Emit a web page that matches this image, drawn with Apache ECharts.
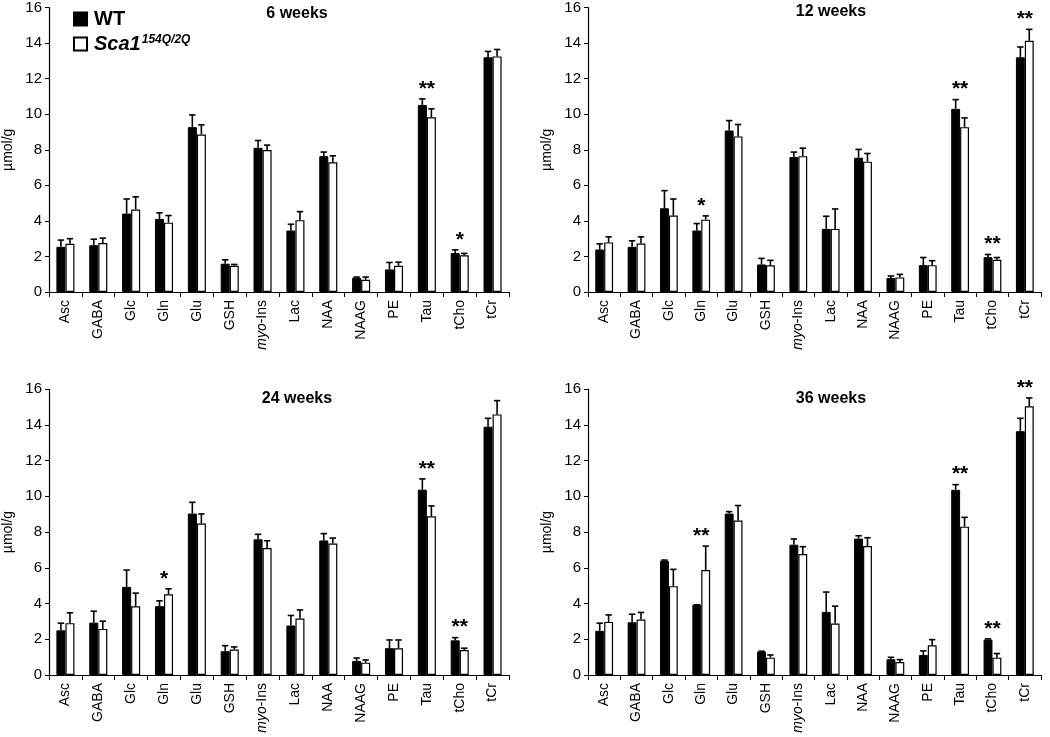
<!DOCTYPE html>
<html><head><meta charset="utf-8">
<script src="https://cdn.jsdelivr.net/npm/echarts@6/dist/echarts.min.js"></script>
<style>html,body{margin:0;padding:0;background:#fff}#c{width:1050px;height:737px}</style>
</head><body><div id="c"></div>
<script>
const categories = ['Asc','GABA','Glc','Gln','Glu','GSH','myo-Ins','Lac','NAA','NAAG','PE','Tau','tCho','tCr'];
const panelTitles = ['6 weeks','12 weeks','24 weeks','36 weeks'];
const seriesNames = ['WT','Sca1'];

// 6 weeks
const wt6      = [2.54, 2.63, 4.41, 4.11, 9.27, 1.59, 8.11, 3.46, 7.64, 0.80, 1.27, 10.52, 2.19, 13.20];
const wt6Err   = [0.38, 0.34, 0.82, 0.34, 0.69, 0.22, 0.41, 0.35, 0.23, 0.04, 0.39, 0.34, 0.18, 0.33];
const sca6     = [2.71, 2.75, 4.64, 3.90, 8.86, 1.48, 7.98, 4.04, 7.29, 0.69, 1.48, 9.83, 2.06, 13.25];
const sca6Err  = [0.29, 0.28, 0.71, 0.40, 0.54, 0.07, 0.28, 0.48, 0.37, 0.15, 0.20, 0.47, 0.11, 0.39];
const stars6   = ['', '', '', '', '', '', '', '', '', '', '', '**', '*', ''];
// 12 weeks
const wt12     = [2.39, 2.54, 4.71, 3.46, 9.08, 1.55, 7.59, 3.55, 7.55, 0.79, 1.51, 10.30, 1.96, 13.20];
const wt12Err  = [0.32, 0.34, 0.99, 0.39, 0.56, 0.34, 0.28, 0.71, 0.47, 0.11, 0.43, 0.52, 0.15, 0.58];
const sca12    = [2.79, 2.73, 4.30, 4.07, 8.75, 1.50, 7.64, 3.55, 7.33, 0.82, 1.51, 9.27, 1.81, 14.13];
const sca12Err = [0.31, 0.37, 0.93, 0.21, 0.67, 0.28, 0.45, 1.12, 0.46, 0.17, 0.25, 0.52, 0.13, 0.64];
const stars12  = ['', '', '', '*', '', '', '', '', '', '', '', '**', '**', '**'];
// 24 weeks
const wt24     = [2.50, 2.93, 4.93, 3.85, 9.03, 1.33, 7.59, 2.77, 7.53, 0.79, 1.50, 10.37, 1.94, 13.89];
const wt24Err  = [0.40, 0.64, 0.94, 0.30, 0.63, 0.31, 0.28, 0.56, 0.38, 0.16, 0.46, 0.60, 0.15, 0.47];
const sca24    = [2.90, 2.58, 3.85, 4.52, 8.47, 1.42, 7.10, 3.16, 7.36, 0.69, 1.50, 8.88, 1.40, 14.58];
const sca24Err = [0.58, 0.43, 0.73, 0.30, 0.54, 0.15, 0.41, 0.48, 0.30, 0.15, 0.46, 0.58, 0.10, 0.77];
const stars24  = ['', '', '', '*', '', '', '', '', '', '', '', '**', '**', ''];
// 36 weeks
const wt36     = [2.47, 2.95, 6.39, 3.93, 9.03, 1.31, 7.29, 3.53, 7.63, 0.88, 1.12, 10.36, 1.98, 13.64];
const wt36Err  = [0.43, 0.45, 0.04, 0.00, 0.11, 0.02, 0.32, 1.11, 0.16, 0.11, 0.23, 0.29, 0.04, 0.72];
const sca36    = [2.97, 3.10, 4.97, 5.87, 8.64, 0.97, 6.77, 2.88, 7.21, 0.73, 1.66, 8.30, 0.97, 15.03];
const sca36Err = [0.39, 0.40, 0.94, 1.34, 0.84, 0.15, 0.41, 0.97, 0.47, 0.13, 0.32, 0.52, 0.23, 0.47];
const stars36  = ['', '', '', '**', '', '', '', '', '', '', '', '**', '**', '**'];

const panels = [
  {wt: wt6,  wtErr: wt6Err,  sca: sca6,  scaErr: sca6Err,  stars: stars6},
  {wt: wt12, wtErr: wt12Err, sca: sca12, scaErr: sca12Err, stars: stars12},
  {wt: wt24, wtErr: wt24Err, sca: sca24, scaErr: sca24Err, stars: stars24},
  {wt: wt36, wtErr: wt36Err, sca: sca36, scaErr: sca36Err, stars: stars36}
];

const FONT = 'Liberation Sans, Arial, sans-serif';
const GAP = 0.45; // barCategoryGap
const grids = [
  {left: 49,  top: 7,   width: 460, height: 285},
  {left: 588, top: 7,   width: 453, height: 285},
  {left: 49,  top: 389, width: 460, height: 286},
  {left: 588, top: 389, width: 453, height: 286}
];
const titlePos = [{x: 292, y: 1}, {x: 826, y: -1}, {x: 292, y: 386}, {x: 826, y: 386}];

function errRender(side) {
  return function (params, api) {
    const i = api.value(0), v = api.value(1), e = api.value(2);
    const base = api.coord([i, v]);
    const top = api.coord([i, v + e]);
    const cw = api.size([1, 0])[0];
    const bw = cw * (1 - GAP) / 2;
    const x = base[0] + side * bw / 2;
    const capHalf = 3.2;
    return {
      type: 'group',
      children: [
        {type: 'line', shape: {x1: x, y1: base[1], x2: x, y2: top[1]}, style: {stroke: '#000', lineWidth: 1.6}},
        {type: 'line', shape: {x1: x - capHalf, y1: top[1], x2: x + capHalf, y2: top[1]}, style: {stroke: '#000', lineWidth: 1.6}}
      ]
    };
  };
}

const starPanelOf = {};
function starRender(params, api) {
  const i = api.value(0), t = api.value(1);
  const p = api.coord([i, t]);
  const txt = panels[starPanelOf[params.seriesIndex]].stars[i];
  return {
    type: 'text',
    x: p[0], y: p[1] - 10,
    style: {text: txt, fill: '#000', font: 'bold 21px ' + FONT, align: 'center', verticalAlign: 'middle'}
  };
}

const xAxes = [], yAxes = [], series = [], titles = [];
panels.forEach((pn, k) => {
  xAxes.push({
    type: 'category', gridIndex: k, data: categories,
    axisLine: {lineStyle: {color: '#000', width: 1.2}},
    axisTick: {show: true, length: 5, lineStyle: {color: '#000'}},
    axisLabel: {
      rotate: 90, margin: 8, color: '#000', fontSize: 14, fontFamily: FONT, interval: 0,
      formatter: v => v === 'myo-Ins' ? '{i|myo}{n|-Ins}' : '{n|' + v + '}',
      rich: {i: {fontStyle: 'italic', fontSize: 14, fontFamily: FONT, color: '#000'},
             n: {fontSize: 14, fontFamily: FONT, color: '#000'}}
    }
  });
  yAxes.push({
    type: 'value', gridIndex: k, min: 0, max: 16, interval: 2,
    name: 'µmol/g', nameLocation: 'middle', nameGap: 34,
    nameTextStyle: {color: '#000', fontSize: 14, fontFamily: FONT},
    axisLine: {show: true, lineStyle: {color: '#000', width: 1.2}},
    axisTick: {show: true, length: 4, lineStyle: {color: '#000'}},
    axisLabel: {color: '#000', fontSize: 15, fontFamily: FONT, margin: 7},
    splitLine: {show: false}
  });
  titles.push({
    text: panelTitles[k], left: titlePos[k].x, top: titlePos[k].y, textAlign: 'center',
    textStyle: {fontSize: 16, fontWeight: 'bold', color: '#000', fontFamily: FONT}
  });
  series.push({
    name: 'WT', type: 'bar', xAxisIndex: k, yAxisIndex: k, data: pn.wt,
    barGap: '0%', barCategoryGap: (GAP * 100) + '%',
    itemStyle: {color: '#000', borderColor: '#000', borderWidth: 1},
    silent: true
  });
  series.push({
    name: 'Sca1', type: 'bar', xAxisIndex: k, yAxisIndex: k, data: pn.sca,
    barGap: '0%', barCategoryGap: (GAP * 100) + '%',
    itemStyle: {color: '#fff', borderColor: '#000', borderWidth: 1.2},
    silent: true
  });
  series.push({
    type: 'custom', xAxisIndex: k, yAxisIndex: k, renderItem: errRender(-1), silent: true, z: 3,
    data: pn.wt.map((v, i) => [i, v, pn.wtErr[i]])
  });
  series.push({
    type: 'custom', xAxisIndex: k, yAxisIndex: k, renderItem: errRender(1), silent: true, z: 3,
    data: pn.sca.map((v, i) => [i, v, pn.scaErr[i]])
  });
  starPanelOf[series.length] = k;
  series.push({
    type: 'custom', xAxisIndex: k, yAxisIndex: k, renderItem: starRender, silent: true, z: 4,
    data: pn.stars.map((s, i) => [i, Math.max(pn.wt[i] + pn.wtErr[i], pn.sca[i] + pn.scaErr[i])])
      .filter((d, i) => pn.stars[i] !== '')
  });
});

const chart = echarts.init(document.getElementById('c'), null, {renderer: 'canvas'});
chart.setOption({
  animation: false,
  backgroundColor: '#fff',
  title: titles,
  legend: {
    data: seriesNames, orient: 'vertical', left: 68, top: 4, itemGap: 5, padding: 5,
    itemWidth: 13, itemHeight: 13, icon: 'rect', selectedMode: false,
    formatter: n => n === 'WT' ? '{b|WT}' : '{bi|Sca1}{sup|154Q/2Q}',
    textStyle: {
      color: '#000', fontFamily: FONT, padding: [0, 0, 0, 2],
      rich: {
        b: {fontSize: 20, fontWeight: 'bold', fontFamily: FONT, color: '#000', lineHeight: 20},
        bi: {fontSize: 20, fontWeight: 'bold', fontStyle: 'italic', fontFamily: FONT, color: '#000', lineHeight: 20},
        sup: {fontSize: 12, fontWeight: 'bold', fontStyle: 'italic', fontFamily: FONT, color: '#000', verticalAlign: 'top', lineHeight: 20, padding: [0, 0, 10, 1]}
      }
    }
  },
  grid: grids,
  xAxis: xAxes,
  yAxis: yAxes,
  series: series
});
</script>
</body></html>
